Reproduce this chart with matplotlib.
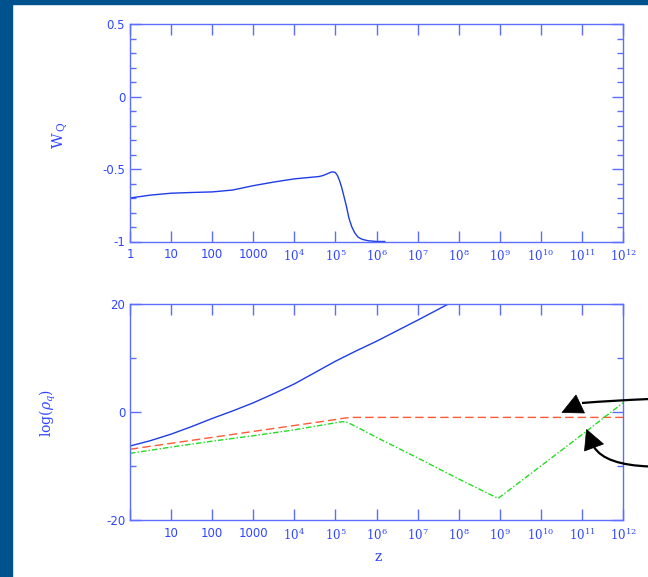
import numpy as np
import matplotlib
matplotlib.use("Agg")
import matplotlib.pyplot as plt
from matplotlib.patches import PathPatch, Polygon, Rectangle
from matplotlib.path import Path
from matplotlib.ticker import MultipleLocator, NullLocator

# ==========================
# DATA  (z given as log10 z)
# ==========================
# equation of state of the quintessence field
wq_logz = [0, 0.5, 1, 1.5, 2, 2.5, 3, 3.5, 4, 4.3, 4.6, 4.7, 4.8, 4.9,
           4.95, 5.0, 5.05, 5.1, 5.15, 5.2, 5.27, 5.33, 5.4, 5.47, 5.55,
           5.65, 5.8, 6.0, 6.2]
wq_vals = [-0.70, -0.68, -0.667, -0.662, -0.658, -0.645, -0.615, -0.59,
           -0.568, -0.56, -0.552, -0.545, -0.533, -0.521, -0.52, -0.525,
           -0.545, -0.58, -0.625, -0.68, -0.76, -0.84, -0.90, -0.94,
           -0.97, -0.985, -0.995, -1.0, -1.0]

# energy densities
rho_logz = [0, 0.5, 1, 1.5, 2, 2.5, 3, 3.5, 4, 4.5, 5, 5.5, 6, 7, 8]
rho_vals = [-6.3, -5.3, -4.1, -2.7, -1.2, 0.2, 1.7, 3.4, 5.2, 7.3, 9.4,
            11.3, 13.1, 17.0, 21.0]

red_logz = [0, 1, 2, 3, 4, 5, 5.2, 5.4, 12]
red_vals = [-6.9, -5.8, -4.7, -3.6, -2.5, -1.4, -1.15, -1.0, -1.0]

grn_logz = [0, 1, 2, 3, 4, 5, 5.1, 5.2, 5.3, 5.5, 6, 7, 8, 8.96, 10, 11, 12]
grn_vals = [-7.65, -6.5, -5.4, -4.4, -3.3, -2.0, -1.85, -1.8, -1.95, -2.7,
            -4.7, -8.5, -12.4, -16.0, -10.0, -4.2, 1.7]

tick_pows = list(range(0, 13))
tick_labels = ["1", "10", "100", "1000"] + [rf"$10^{{{k}}}$" for k in range(4, 13)]

# ==========================
# STYLE
# ==========================
TXT = "#2f45ff"
SPINE = "#5c6dff"
BLUE = "#1f3de6"
RED = "#ff5a36"
GREEN = "#22dd22"
plt.rcParams["mathtext.fontset"] = "dejavuserif"
plt.rcParams["axes.unicode_minus"] = False

W, H = 648, 577
fig = plt.figure(figsize=(W / 100, H / 100), dpi=100)

# slide frame
fig.add_artist(Rectangle((0, 0), 12 / W, 1, transform=fig.transFigure,
                         color="#00528f", zorder=0))
fig.add_artist(Rectangle((0, 1 - 4 / H), 1, 4 / H, transform=fig.transFigure,
                         color="#00528f", zorder=0))


def px(x, y):
    return (x / W, 1 - y / H)


def px_axes(x0, y0, x1, y1):
    return fig.add_axes([x0 / W, 1 - y1 / H, (x1 - x0) / W, (y1 - y0) / H])


def style(ax):
    ax.set_xscale("log")
    ax.set_xlim(1, 1e12)
    ax.set_xticks([10.0 ** k for k in tick_pows])
    ax.xaxis.set_minor_locator(NullLocator())
    for s in ax.spines.values():
        s.set_color(SPINE)
        s.set_linewidth(1.0)
    ax.tick_params(which="both", direction="in", top=True, right=True,
                   color=SPINE, labelcolor=TXT, labelsize=8.5)
    ax.tick_params(which="major", length=8, width=1)
    ax.tick_params(which="minor", length=4, width=1)
    ax.tick_params(axis="x", pad=5)


# --- top panel: w_Q(z)
ax1 = px_axes(130, 24, 623, 241.5)
style(ax1)
ax1.plot(10.0 ** np.array(wq_logz), wq_vals, color=BLUE, lw=1.0)
ax1.set_ylim(-1, 0.5)
ax1.yaxis.set_minor_locator(MultipleLocator(0.1))
ax1.set_yticks([-1, -0.5, 0, 0.5])
ax1.set_yticklabels(["-1", "-0.5", "0", "0.5"])
ax1.set_xticklabels(tick_labels)
fig.text(60 / W, 1 - 135 / H, r"$\mathrm{W}_{\,\mathrm{Q}}$", color=TXT,
         rotation=90, ha="center", va="center", fontsize=11)

# --- bottom panel: log(rho)
ax2 = px_axes(130, 304, 623, 520)
style(ax2)
ax2.plot(10.0 ** np.array(rho_logz), rho_vals, color=BLUE, lw=1.0)
ax2.plot(10.0 ** np.array(red_logz), red_vals, color=RED, lw=1.0,
         dashes=(6, 3))
ax2.plot(10.0 ** np.array(grn_logz), grn_vals, color=GREEN, lw=1.0,
         dashes=(4, 1.5, 1, 1.5))
ax2.set_ylim(-20, 20)
ax2.yaxis.set_major_locator(MultipleLocator(20))
ax2.yaxis.set_minor_locator(MultipleLocator(10))
ax2.set_xticklabels([""] + tick_labels[1:])
fig.text(48 / W, 1 - 413 / H, r"$\log(\rho_q)$", color=TXT,
         rotation=90, ha="center", va="center", fontsize=10)
fig.text(378 / W, 1 - 557 / H, r"$\mathrm{z}$", color=TXT,
         ha="center", va="center", fontsize=10)

# --- pointer arrows coming in from the right edge (pixel coords)
# each: curved shaft (start, control, end) and a filled triangular head
arrows = [
    ([(582, 403), (612, 400.5), (650, 399)],
     [(562, 412.5), (576, 395), (584.5, 413)]),
    ([(594, 447), (605, 465), (650, 466.5)],
     [(586.5, 429.5), (584.5, 451), (603.5, 444)]),
]
for shaft, head in arrows:
    path = Path([px(*p) for p in shaft],
                [Path.MOVETO, Path.CURVE3, Path.CURVE3])
    fig.add_artist(PathPatch(path, transform=fig.transFigure, fill=False,
                             edgecolor="black", lw=1.6, clip_on=False))
    fig.add_artist(Polygon([px(*p) for p in head], closed=True,
                           transform=fig.transFigure, facecolor="black",
                           edgecolor="black", lw=0.5, clip_on=False))

fig.savefig("out.png", dpi=100)
